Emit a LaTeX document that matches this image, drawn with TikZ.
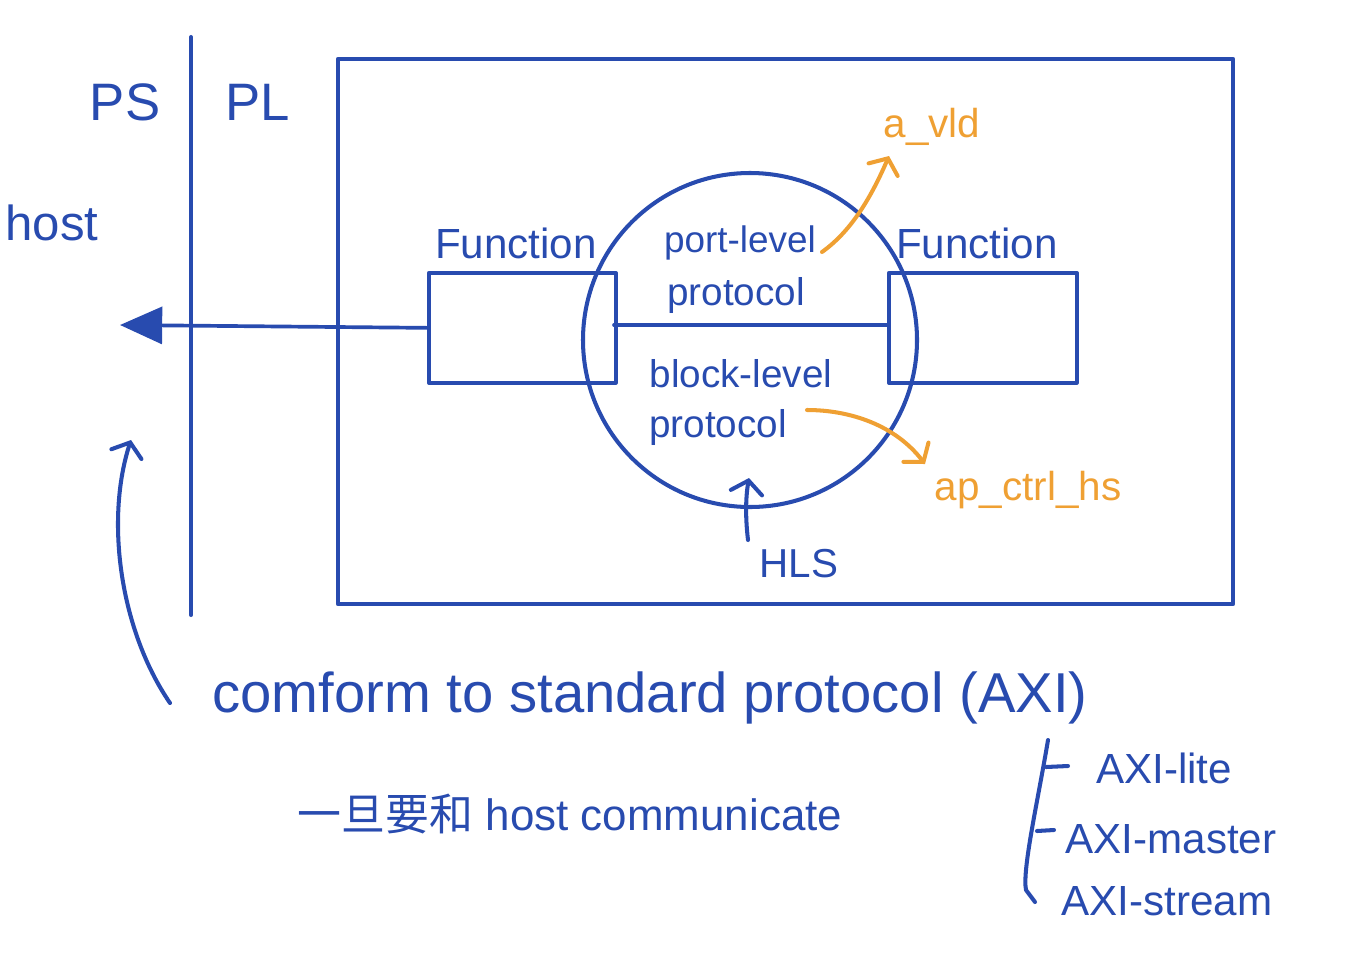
\documentclass[tikz,border=0pt]{standalone}
\usepackage{fontspec}
\setmainfont{Liberation Sans}
\newfontfamily\cjkfont{Noto Sans CJK SC}
\usetikzlibrary{arrows.meta}
\definecolor{penblue}{HTML}{284BAF}
\definecolor{penorange}{HTML}{EFA033}
\tikzset{
  pen/.style={draw=penblue, line width=2.3pt, line cap=round, line join=round},
  orangepen/.style={draw=penorange, line width=2.3pt, line cap=round, line join=round},
  hand/.style={text=penblue, inner sep=0pt, anchor=base},
  orangehand/.style={text=penorange, inner sep=0pt, anchor=base},
  barb/.style={-{Straight Barb[length=7pt, width=18pt, line cap=round]}},
  fnbox/.style={pen, line width=2.1pt}
}
\begin{document}
\begin{tikzpicture}[x=0.02cm, y=-0.02cm]
			%%%%% START %%%%%
			\useasboundingbox (0, 0) rectangle (1355, 957);
			
			% PS / PL split
			\coordinate (splittop) at (191, 37);
			\coordinate (splitbot) at (191, 615);
			\draw[pen] (splittop) -- (splitbot);
			\node[hand, font=\fontsize{30}{34}\selectfont] (ps) at (125, 120) {PS};
			\node[hand, font=\fontsize{30}{34}\selectfont] (pl) at (258, 120) {PL};
			\node[hand, font=\fontsize{28}{32}\selectfont] (host) at (52, 240) {host};
			
			% PL region
			\draw[pen, line width=2.6pt] (338, 59) rectangle (1233, 604);
			
			% function blocks and the protocol circle
			\node[fnbox, draw, minimum width=187*0.02cm, minimum height=110*0.02cm, anchor=north west] (fnleft) at (427, 271) {};
			\node[fnbox, draw, minimum width=188*0.02cm, minimum height=110*0.02cm, anchor=north west] (fnright) at (887, 271) {};
			\node[pen, draw, circle, minimum size=334*0.02cm] (iface) at (750, 340) {};
			\node[hand, font=\fontsize{24}{28}\selectfont] (fnleftlbl) at (516, 258) {Function};
			\node[hand, font=\fontsize{24}{28}\selectfont] (fnrightlbl) at (977, 258) {Function};
			
			\coordinate (midleft) at (614, 325);
			\coordinate (midright) at (887, 325);
			\draw[pen, line width=2.1pt] (midleft) -- (midright);
			
			\node[hand, font=\fontsize{21}{25}\selectfont] (portlvl) at (740, 252) {port-level};
			\node[hand, font=\fontsize{22}{26}\selectfont] (portproto) at (736, 305) {protocol};
			\node[hand, font=\fontsize{22}{26}\selectfont] (blocklvl) at (741, 387) {block-level};
			\node[hand, font=\fontsize{22}{26}\selectfont] (blockproto) at (718, 437) {protocol};
			
			% towards the host
			\coordinate (hostin) at (120, 325);
			\draw[pen, line width=2.1pt, -{Triangle[length=24pt, width=21pt]}] (fnleft.west) -- (hostin);
			
			% orange signal names
			\node[orangehand, font=\fontsize{23}{27}\selectfont] (avld) at (932, 137) {a\_vld};
			\node[orangehand, font=\fontsize{23}{27}\selectfont] (apctrl) at (1028, 500) {ap\_ctrl\_hs};
			\coordinate (avldfrom) at (822, 252);
			\coordinate (avldto) at (889, 156);
			\draw[orangepen, barb] (avldfrom) .. controls (850, 232) and (870, 200) .. (avldto);
			\coordinate (apfrom) at (807, 410);
			\coordinate (apto) at (925, 464);
			\draw[orangepen, barb] (apfrom) .. controls (850, 410) and (895, 425) .. (apto);
			
			% HLS
			\node[hand, font=\fontsize{23}{27}\selectfont] (hls) at (799, 577) {HLS};
			\coordinate (hlsfrom) at (748, 540);
			\coordinate (hlsto) at (749, 478);
			\draw[pen, barb] (hlsfrom) .. controls (745, 515) and (746, 495) .. (hlsto);
			
			% standard protocol note
			\node[hand, font=\fontsize{32}{38}\selectfont] (conform) at (650, 712) {comform to standard protocol (AXI)};
			\coordinate (notefrom) at (170, 703);
			\coordinate (noteto) at (131, 440);
			\draw[pen, barb] (notefrom) .. controls (120, 630) and (105, 520) .. (noteto);
			\node[hand, font=\fontsize{25}{30}\selectfont] (commnote) at (570, 830) {{\cjkfont 一旦要和} host communicate};
			
			% AXI variants
			\coordinate (brtop) at (1048, 740);
			\coordinate (brbot) at (1035, 902);
			\draw[pen] (brtop) .. controls (1038, 800) and (1022, 870) .. (1026, 890) -- (brbot);
			\draw[pen] (1046, 767) -- (1068, 766);
			\draw[pen] (1037, 831) -- (1054, 830);
			\node[hand, font=\fontsize{24}{28}\selectfont] (axilite) at (1164, 783) {AXI-lite};
			\node[hand, font=\fontsize{24}{28}\selectfont] (aximaster) at (1171, 853) {AXI-master};
			\node[hand, font=\fontsize{24}{28}\selectfont] (axistream) at (1167, 915) {AXI-stream};
			
			%%%%% END %%%%%
		\end{tikzpicture}
\end{document}
